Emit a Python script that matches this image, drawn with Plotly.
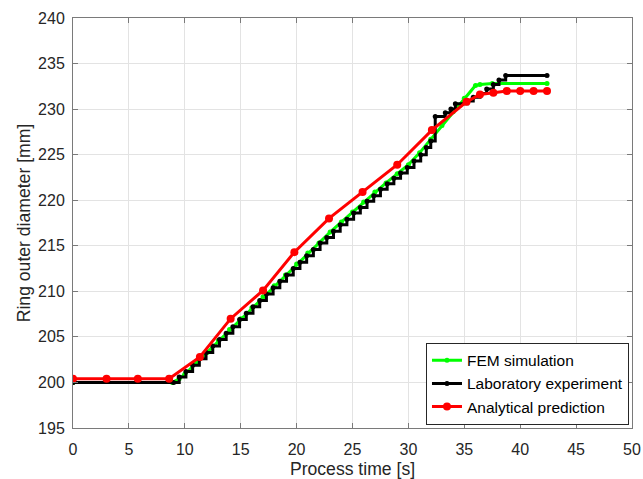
import plotly.graph_objects as go

# FEM simulation
fem_t = [0, 8.9, 9.5, 10, 11, 12, 13, 14, 15, 16, 17, 18, 19, 20, 21, 22, 23, 24, 25, 26,
         27, 28, 29, 30, 31, 32, 33, 34, 35, 36, 36.4, 37.5, 42.4]
fem_d = [200.0, 200.0, 200.4, 200.9, 202.1, 203.3, 204.6, 205.8, 207.0, 208.2, 209.4, 210.6,
         211.8, 213.0, 214.2, 215.3, 216.5, 217.6, 218.7, 219.8, 220.9, 221.9, 222.9, 223.9,
         225.2, 226.7, 228.2, 229.7, 231.2, 232.6, 232.7, 232.8, 232.8]

# Laboratory experiment (stepwise measurement)
lab_t = [0, 9.0, 9.5, 10.1, 10.7, 11.3, 11.9, 12.5, 13.1, 13.7, 14.3, 14.9, 15.5, 16.1, 16.7,
         17.3, 17.9, 18.5, 19.1, 19.7, 20.3, 20.9, 21.5, 22.1, 22.7, 23.3, 23.9, 24.5, 25.1,
         25.7, 26.3, 26.9, 27.5, 28.1, 28.7, 29.3, 29.9, 30.5, 31.1, 31.6, 32.0, 32.4, 33.3,
         33.8, 34.2, 35.3, 35.8, 36.4, 37.0, 37.6, 38.1, 38.7, 42.4]
lab_d = [200.0, 200.0, 200.6, 201.2, 201.9, 202.6, 203.3, 204.0, 204.7, 205.4, 206.1, 206.9,
         207.6, 208.3, 209.0, 209.7, 210.4, 211.1, 211.8, 212.5, 213.2, 213.9, 214.6, 215.3,
         215.9, 216.6, 217.3, 217.9, 218.6, 219.2, 219.9, 220.5, 221.2, 221.8, 222.4, 223.0,
         223.6, 224.3, 225.0, 225.8, 226.5, 229.2, 229.6, 230.0, 230.6, 230.9, 231.3, 231.7,
         232.2, 232.7, 233.2, 233.7, 233.7]

# Analytical prediction
ana_t = [0, 3.0, 5.8, 8.6, 11.35, 14.1, 17.0, 19.8, 22.9, 25.9, 29.0, 32.1, 35.2, 36.4, 37.6,
         38.8, 40.0, 41.2, 42.4]
ana_d = [200.4, 200.4, 200.4, 200.4, 202.8, 207.0, 210.1, 214.3, 218.0, 220.9, 223.9, 227.7,
         230.8, 231.6, 231.8, 232.0, 232.0, 232.0, 232.0]

x_ticks = [0, 5, 10, 15, 20, 25, 30, 35, 40, 45, 50]
y_ticks = [195, 200, 205, 210, 215, 220, 225, 230, 235, 240]

FONT = "Liberation Sans, Arial, Helvetica, sans-serif"

fig = go.Figure()
fig.add_trace(go.Scatter(x=fem_t, y=fem_d, mode="lines+markers", name="FEM simulation",
                         line=dict(color="#00ff00", width=3), marker=dict(size=5, color="#00ff00")))
fig.add_trace(go.Scatter(x=lab_t, y=lab_d, mode="lines+markers", name="Laboratory experiment",
                         line=dict(color="#000000", width=3, shape="hv"),
                         marker=dict(size=5, color="#000000")))
fig.add_trace(go.Scatter(x=ana_t, y=ana_d, mode="lines+markers", name="Analytical prediction",
                         line=dict(color="#ff0000", width=3), marker=dict(size=8, color="#ff0000")))

axis_common = dict(
    showgrid=True, gridcolor="#e3e3e3", gridwidth=1,
    showline=True, linecolor="#7a7a7a", linewidth=1, mirror="allticks",
    ticks="inside", ticklen=5, tickcolor="#7a7a7a", tickwidth=1,
    zeroline=False, tickfont=dict(family=FONT, size=16, color="#262626"),
)

fig.update_xaxes(range=[0, 50], tickvals=x_ticks, ticktext=[str(v) for v in x_ticks],
                 ticklabelstandoff=7,
                 title=dict(text="Process time [s]", font=dict(family=FONT, size=17.6, color="#262626"),
                            standoff=14),
                 **axis_common)
fig.update_yaxes(range=[195, 240], tickvals=y_ticks, ticktext=[str(v) for v in y_ticks],
                 ticklabelstandoff=4,
                 title=dict(text="Ring outer diameter [mm]", font=dict(family=FONT, size=17.6, color="#262626"),
                            standoff=2),
                 **axis_common)

fig.update_layout(
    width=643, height=479,
    margin=dict(l=73, r=11, t=18, b=51, autoexpand=False),
    paper_bgcolor="white", plot_bgcolor="white",
    font=dict(family=FONT, color="#262626"),
    legend=dict(x=0.9946, y=0.008, xanchor="right", yanchor="bottom",
                bgcolor="white", bordercolor="#262626", borderwidth=1,
                font=dict(family=FONT, size=15.5, color="#000000"),
                itemwidth=30, tracegroupgap=0),
    showlegend=True,
)

fig.write_html("out.html")
